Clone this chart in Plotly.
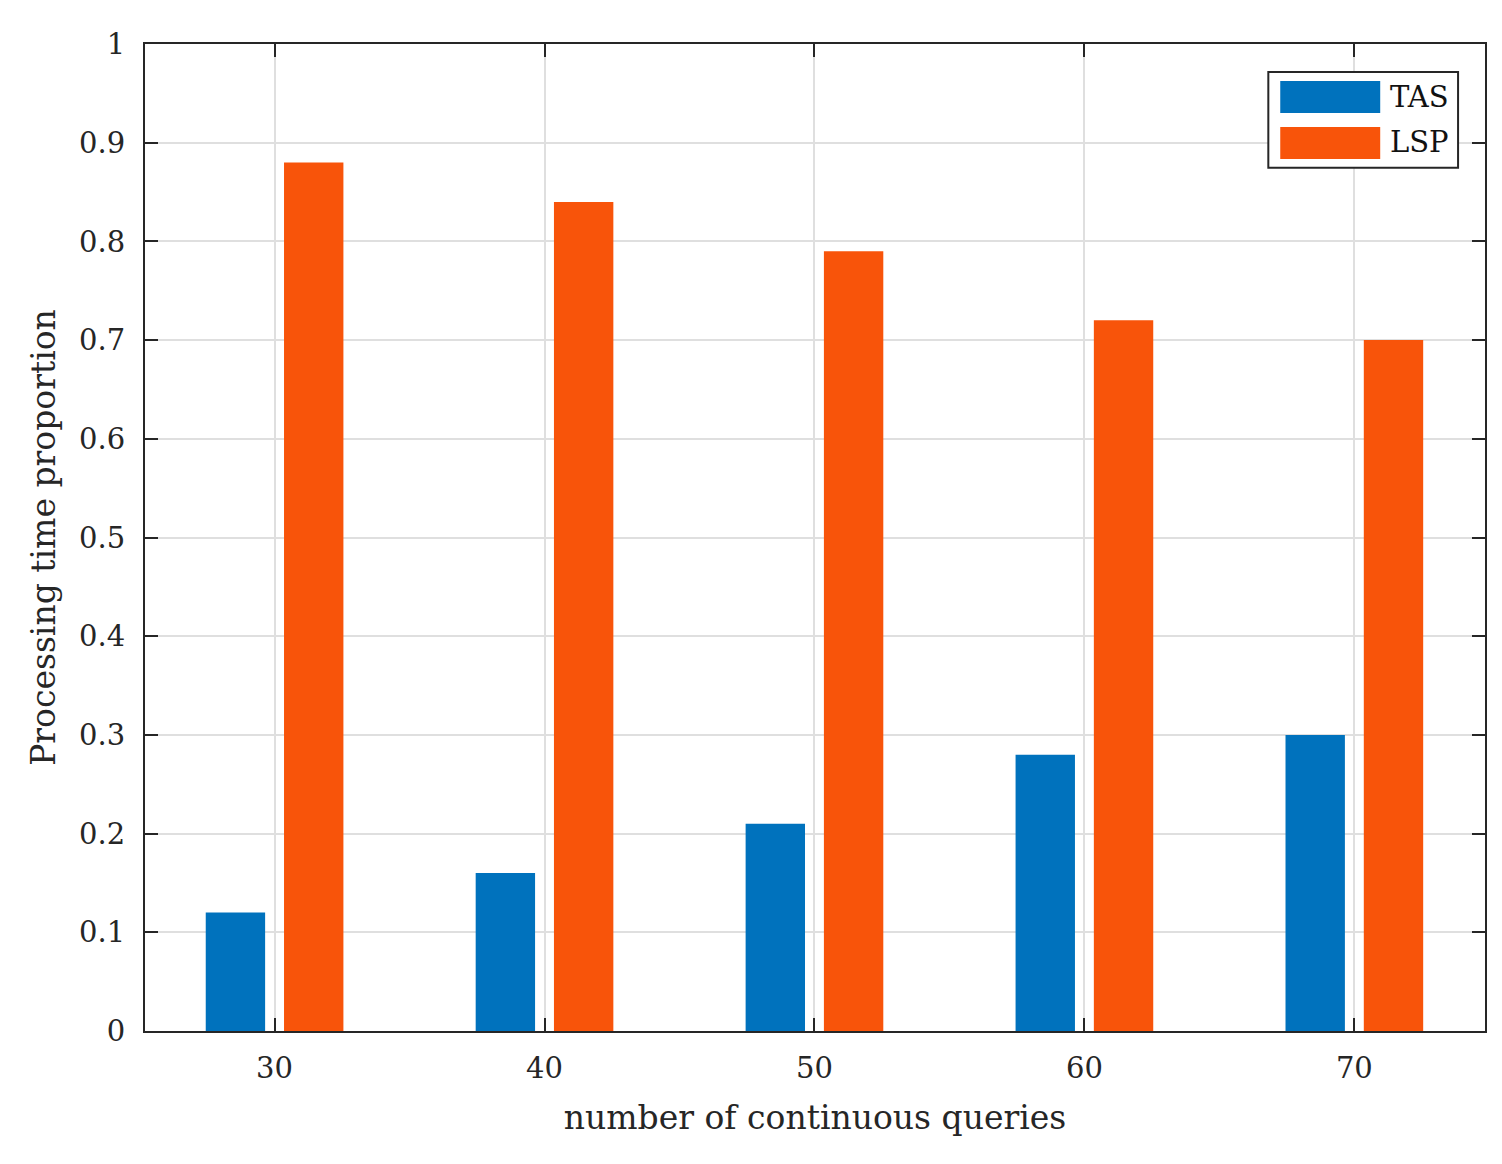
import plotly.graph_objects as go

categories = [30, 40, 50, 60, 70]
tas = [0.12, 0.16, 0.21, 0.28, 0.30]
lsp = [0.88, 0.84, 0.79, 0.72, 0.70]
series_names = ["TAS", "LSP"]
y_ticks = [0, 0.1, 0.2, 0.3, 0.4, 0.5, 0.6, 0.7, 0.8, 0.9, 1]
y_ticklabels = ["0", "0.1", "0.2", "0.3", "0.4", "0.5", "0.6", "0.7", "0.8", "0.9", "1"]

FONT = "DejaVu Serif"
BLUE = "#0072BD"
ORANGE = "#F8540A"
INK = "#262626"

fig = go.Figure()
fig.add_trace(go.Bar(x=categories, y=tas, name=series_names[0], marker=dict(color=BLUE, line=dict(width=0)),
                     width=2.2, offset=-2.55, showlegend=False))
fig.add_trace(go.Bar(x=categories, y=lsp, name=series_names[1], marker=dict(color=ORANGE, line=dict(width=0)),
                     width=2.2, offset=0.35, showlegend=False))

axis_common = dict(showline=True, linecolor=INK, linewidth=2, mirror="ticks",
                   ticks="inside", ticklen=13, tickcolor=INK, tickwidth=2,
                   showgrid=True, gridcolor="#DFDFDF", gridwidth=1.5, zeroline=False,
                   tickfont=dict(family=FONT, size=29, color=INK))

fig.update_layout(
    width=1486, height=1148,
    paper_bgcolor="white", plot_bgcolor="white",
    margin=dict(l=137, r=7, t=36, b=125),
    barmode="overlay",
    xaxis=dict(range=[25.2, 74.84], tickvals=categories, ticktext=[str(c) for c in categories],
               title=dict(text="number of continuous queries", font=dict(family=FONT, size=33, color=INK), standoff=22),
               ticklabelstandoff=10, **axis_common),
    yaxis=dict(range=[0, 1], tickvals=y_ticks, ticktext=y_ticklabels,
               title=dict(text="Processing time proportion", font=dict(family=FONT, size=33, color=INK), standoff=14),
               ticklabelstandoff=12, **axis_common),
    showlegend=False,
)

# Legend box (drawn manually to match large MATLAB-style swatches)
fig.add_shape(type="rect", xref="paper", yref="paper", x0=0.8383, x1=0.9799, y0=0.8745, y1=0.9717,
              line=dict(color=INK, width=2), fillcolor="white", layer="above")
swatches = [(BLUE, 0.9626, 0.9302, 0.9464), (ORANGE, 0.9160, 0.8836, 0.9008)]
for name, (col, ytop, ybot, ymid) in zip(series_names, swatches):
    fig.add_shape(type="rect", xref="paper", yref="paper", x0=0.8472, x1=0.9218, y0=ybot, y1=ytop,
                  line=dict(width=0), fillcolor=col, layer="above")
    fig.add_annotation(xref="paper", yref="paper", x=0.9275, y=ymid, text=name, showarrow=False,
                       xanchor="left", yanchor="middle", font=dict(family=FONT, size=29, color="#111111"))

fig.write_html("out.html")
